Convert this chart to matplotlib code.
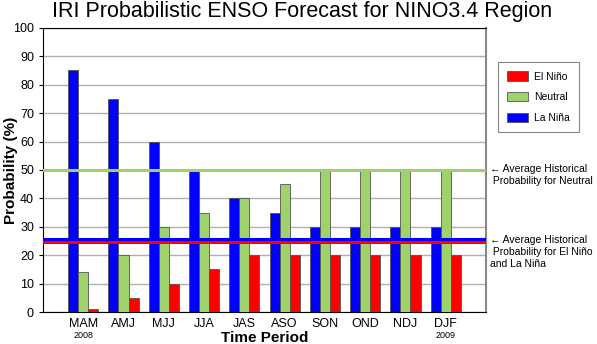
import matplotlib.pyplot as plt
import numpy as np

plt.rcParams["font.family"] = ["Liberation Sans", "DejaVu Sans"]

# Forecast seasons and probabilities (%)
seasons = ["MAM", "AMJ", "MJJ", "JJA", "JAS", "ASO", "SON", "OND", "NDJ", "DJF"]
la_nina = [85, 75, 60, 50, 40, 35, 30, 30, 30, 30]
neutral = [14, 20, 30, 35, 40, 45, 50, 50, 50, 50]
el_nino = [1, 5, 10, 15, 20, 20, 20, 20, 20, 20]

# Historical climatological probabilities
hist_neutral = 50
hist_nina = 25.6
hist_nino = 24.8

blue = "#0000ff"
green = "#9ed36c"
red = "#ff0000"

fig = plt.figure(figsize=(5.97, 3.44), dpi=100)
ax = fig.add_axes([0.072, 0.093, 0.742, 0.826])

x = np.arange(len(seasons))
w = 0.25
edge = dict(edgecolor="#555555", linewidth=0.6, zorder=3)
ax.bar(x - w, la_nina, w, color=blue, label="La Niña", **edge)
ax.bar(x, neutral, w, color=green, label="Neutral", **edge)
ax.bar(x + w, el_nino, w, color=red, label="El Niño", **edge)

ax.axhline(hist_neutral, color=green, lw=2.2, zorder=4)
ax.axhline(hist_nina, color=blue, lw=2.2, zorder=4)
ax.axhline(hist_nino, color=red, lw=2.2, zorder=4)

ax.set_xlim(-1, len(seasons))
ax.set_ylim(0, 100)
ax.set_yticks(range(0, 101, 10))
ax.set_xticks(x)
ax.set_xticklabels(seasons, fontsize=9)
ax.tick_params(axis="y", labelsize=9, length=3)
ax.tick_params(axis="x", length=0, pad=4)
ax.yaxis.grid(True, color="#b0b0b0", lw=1, zorder=0)
ax.set_axisbelow(True)
for s in ["left", "bottom", "top"]:
    ax.spines[s].set_color("black")
ax.spines["right"].set_color("#888888")
ax.spines["right"].set_linewidth(1.5)

xt = ax.get_xaxis_transform()
ax.text(0, -0.066, "2008", transform=xt, ha="center", va="top", fontsize=6.5)
ax.text(9, -0.066, "2009", transform=xt, ha="center", va="top", fontsize=6.5)

ax.set_xlabel("Time Period", fontsize=11, fontweight="bold")
ax.xaxis.set_label_coords(0.5, -0.067)
ax.xaxis.label.set_va("top")
ax.set_ylabel("Probability (%)", fontsize=11, fontweight="bold")
ax.yaxis.set_label_coords(-0.057, 0.5)
fig.text(0.506, 0.968, "IRI Probabilistic ENSO Forecast for NINO3.4 Region",
         fontsize=15.5, ha="center", va="center")

# Side notes for the historical lines
ax.annotate("← Average Historical\n Probability for Neutral", xy=(1.01, hist_neutral),
            xycoords=("axes fraction", "data"), va="top", ha="left", fontsize=7.5,
            annotation_clip=False, xytext=(0, 4), textcoords="offset points", linespacing=1.25)
ax.annotate("← Average Historical\n Probability for El Niño\nand La Niña", xy=(1.01, 25),
            xycoords=("axes fraction", "data"), va="top", ha="left", fontsize=7.5,
            annotation_clip=False, xytext=(0, 4), textcoords="offset points", linespacing=1.25)

handles, labels = ax.get_legend_handles_labels()
leg = fig.legend(handles[::-1], labels[::-1], loc="upper left", bbox_to_anchor=(0.834, 0.82),
                 fontsize=7.5, frameon=True, fancybox=False, edgecolor="#666666",
                 handlelength=2.0, handleheight=1.0, labelspacing=1.0, borderpad=0.9,
                 borderaxespad=0, handletextpad=0.6)
leg.get_frame().set_linewidth(0.8)

fig.savefig("out.png", dpi=100)
